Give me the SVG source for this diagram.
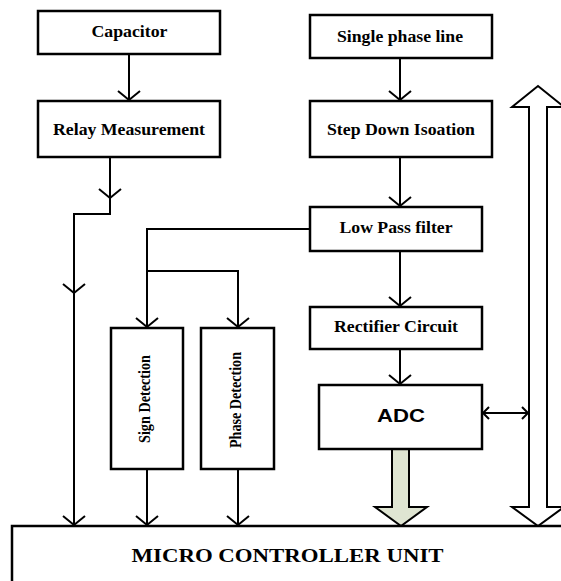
<svg xmlns="http://www.w3.org/2000/svg" width="561" height="581" viewBox="0 0 561 581">
<defs>
<style>
.box{fill:#fff;stroke:#000;stroke-width:2.5}
.t{font-family:"Liberation Serif","Times New Roman",serif;font-weight:bold;font-size:17px;fill:#000;text-anchor:middle}
.v{font-size:16px}
.m{font-size:18px}
.s{font-family:"Liberation Sans",Arial,sans-serif;font-weight:bold;font-size:18px;fill:#000;text-anchor:middle}
.c{fill:none;stroke:#000;stroke-width:2}
</style>
<marker id="ah" markerUnits="userSpaceOnUse" viewBox="-12 -12 14 24" refX="0" refY="0" markerWidth="14" markerHeight="24" orient="auto" overflow="visible">
<path d="M-9,-11 L0,0 L-9,11" fill="none" stroke="#000" stroke-width="2"/>
</marker>
<marker id="sh" markerUnits="userSpaceOnUse" viewBox="-8 -8 10 16" refX="0" refY="0" markerWidth="10" markerHeight="16" orient="auto-start-reverse" overflow="visible">
<path d="M-6,-6 L0,0 L-6,6" fill="none" stroke="#000" stroke-width="2"/>
</marker>
</defs>
<rect width="561" height="581" fill="#fff"/>

<g id="connectors">
<path class="c" d="M129,54 V100" marker-end="url(#ah)"/>
<path class="c" d="M400,58 V100" marker-end="url(#ah)"/>
<path class="c" d="M400,157 V206" marker-end="url(#ah)"/>
<path class="c" d="M110,157 V198" marker-end="url(#ah)"/>
<path class="c" d="M110,198 V214 H74 V293" marker-end="url(#ah)"/>
<path class="c" d="M74,293 V525" marker-end="url(#ah)"/>
<path class="c" d="M310,229 H147 V327" marker-end="url(#ah)"/>
<path class="c" d="M147,271 H238 V327" marker-end="url(#ah)"/>
<path class="c" d="M400,251 V306" marker-end="url(#ah)"/>
<path class="c" d="M400,349 V384" marker-end="url(#ah)"/>
<path class="c" d="M147,469 V525" marker-end="url(#ah)"/>
<path class="c" d="M238,469 V525" marker-end="url(#ah)"/>
<path class="c" d="M483,413 H528" marker-start="url(#sh)" marker-end="url(#sh)"/>
<polygon points="392,449 409,449 409,507 427,507 401,526 375,507 392,507" fill="#dfe5d2" stroke="#000" stroke-width="2"/>
<polygon points="538,86 564,107 547,107 547,507 564,507 538,526 512,507 529,507 529,107 512,107" fill="#fff" stroke="#000" stroke-width="2"/>
</g>

<g id="capacitor">
<rect class="box" x="38" y="11" width="182" height="43"/>
<text class="t" x="129.5" y="37" textLength="76" lengthAdjust="spacingAndGlyphs">Capacitor</text>
</g>
<g id="relay">
<rect class="box" x="38" y="101" width="182" height="56"/>
<text class="t" x="129" y="135" textLength="152" lengthAdjust="spacingAndGlyphs">Relay Measurement</text>
</g>
<g id="single-phase">
<rect class="box" x="310" y="15" width="182" height="43"/>
<text class="t" x="400" y="42" textLength="126" lengthAdjust="spacingAndGlyphs">Single phase line</text>
</g>
<g id="step-down">
<rect class="box" x="310" y="101" width="182" height="56"/>
<text class="t" x="401" y="135" textLength="148" lengthAdjust="spacingAndGlyphs">Step Down Isoation</text>
</g>
<g id="low-pass">
<rect class="box" x="310" y="207" width="172" height="44"/>
<text class="t" x="396" y="233" textLength="113" lengthAdjust="spacingAndGlyphs">Low Pass filter</text>
</g>
<g id="rectifier">
<rect class="box" x="310" y="307" width="172" height="42"/>
<text class="t" x="396" y="332" textLength="124" lengthAdjust="spacingAndGlyphs">Rectifier Circuit</text>
</g>
<g id="adc">
<rect class="box" x="319" y="385" width="163" height="64"/>
<text class="s" x="401" y="422" textLength="48" lengthAdjust="spacingAndGlyphs">ADC</text>
</g>
<g id="sign-detection">
<rect class="box" x="111" y="328" width="72" height="141"/>
<text class="t v" transform="translate(150,399) rotate(-90)" textLength="88" lengthAdjust="spacingAndGlyphs">Sign Detection</text>
</g>
<g id="phase-detection">
<rect class="box" x="201" y="328" width="73" height="141"/>
<text class="t v" transform="translate(241,400) rotate(-90)" textLength="96" lengthAdjust="spacingAndGlyphs">Phase Detection</text>
</g>
<g id="mcu">
<rect class="box" x="12" y="526" width="560" height="70"/>
<text class="t m" x="287.5" y="562" textLength="312" lengthAdjust="spacingAndGlyphs">MICRO CONTROLLER UNIT</text>
</g>
</svg>
